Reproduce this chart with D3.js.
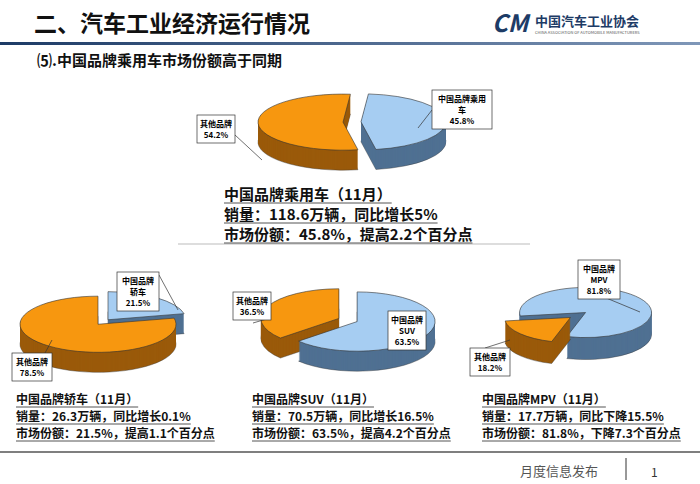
<!DOCTYPE html><html><head><meta charset="utf-8"><script src="https://cdn.jsdelivr.net/npm/d3@7"></script>
<style>body{margin:0;background:#fff}text{font-family:"Noto Sans CJK SC",sans-serif}</style></head><body>
<svg id="c" width="700" height="484"></svg>
<script>
const categories=["中国品牌","其他品牌"];
const pieNames=["乘用车","轿车","SUV","MPV"];
const chinaShare=[45.8,21.5,63.5,81.8];
const otherShare=[54.2,78.5,36.5,18.2];
const startAngles=[5,0,0,262];
const infoLines=[
["中国品牌乘用车（11月）","销量：118.6万辆，同比增长5%","市场份额：45.8%，提高2.2个百分点"],
["中国品牌轿车（11月）","销量：26.3万辆，同比增长0.1%","市场份额：21.5%，提高1.1个百分点"],
["中国品牌SUV（11月）","销量：70.5万辆，同比增长16.5%","市场份额：63.5%，提高4.2个百分点"],
["中国品牌MPV（11月）","销量：17.7万辆，同比下降15.5%","市场份额：81.8%，下降7.3个百分点"]];
const labelChina=[["中国品牌乘用","车","45.8%"],["中国品牌","轿车","21.5%"],["中国品牌","SUV","63.5%"],["中国品牌","MPV","81.8%"]];
const labelOther=[["其他品牌","54.2%"],["其他品牌","78.5%"],["其他品牌","36.5%"],["其他品牌","18.2%"]];

const svg=d3.select("#c");
svg.append("text").attr("x",34).attr("y",32).attr("font-size",23).attr("font-weight","bold").attr("fill","#111").text("二、汽车工业经济运行情况");
const g0=svg.append("defs").append("linearGradient").attr("id","hl");
g0.append("stop").attr("offset","0").attr("stop-color","#1d3b66");g0.append("stop").attr("offset","1").attr("stop-color","#7f97b8");
svg.append("rect").attr("x",0).attr("y",42).attr("width",700).attr("height",3).attr("fill","url(#hl)");
svg.append("text").attr("x",492).attr("y",32).attr("font-size",24).attr("font-weight","bold").attr("font-style","italic").attr("fill","#1d3b66").text("CM");
svg.append("text").attr("x",535).attr("y",26).attr("font-size",13).attr("font-weight","bold").attr("fill","#1d3b66").text("中国汽车工业协会");
svg.append("text").attr("x",535).attr("y",34).attr("font-size",4).attr("fill","#555").text("CHINA ASSOCIATION OF AUTOMOBILE MANUFACTURERS");
svg.append("text").attr("x",37).attr("y",66).attr("font-size",15).attr("font-weight","bold").attr("fill","#111").text("⑸.中国品牌乘用车市场份额高于同期");
svg.append("line").attr("x1",178).attr("x2",530).attr("y1",244).attr("y2",244).attr("stroke","#bbb");
svg.append("line").attr("x1",0).attr("x2",700).attr("y1",452).attr("y2",452).attr("stroke","#555").attr("stroke-width",1.5);
svg.append("text").attr("x",520).attr("y",476).attr("font-size",13).attr("fill","#555").attr("font-family","Noto Serif CJK SC,serif").text("月度信息发布");
svg.append("line").attr("x1",626).attr("x2",626).attr("y1",458).attr("y2",480).attr("stroke","#333");
svg.append("text").attr("x",651).attr("y",477).attr("font-size",12).attr("fill","#333").text("1");

const cfg=[{cx:352,cy:122,r:85,k:0.33,d:20,ex:9},{cx:103,cy:322,r:78,k:0.36,d:20,ex:8},{cx:348,cy:320,r:78,k:0.38,d:20,ex:10},{cx:578,cy:315,r:66,k:0.38,d:22,ex:10}];
const topC=["#A6CDF2","#F7970F"],sideC=["#4F7092","#9A5A0A"];
cfg.forEach((c,i)=>{
  const vals=[chinaShare[i],otherShare[i]];
  const a0=startAngles[i]*Math.PI/180;
  const pie=d3.pie().sort(null).value(d=>d).startAngle(a0).endAngle(a0+2*Math.PI)(vals);
  const arc=d3.arc().innerRadius(0).outerRadius(c.r);
  const g=svg.append("g");
  const items=pie.map((p,j)=>{const m=(p.startAngle+p.endAngle)/2;return {p,j,dx:Math.sin(m)*c.ex,dy:-Math.cos(m)*c.ex*c.k,m};});
  items.sort((a,b)=>a.dy-b.dy);
  items.forEach(it=>{
    for(let t=c.d;t>=1;t--){
      g.append("path").attr("d",arc(it.p)).attr("fill",sideC[it.j]).attr("stroke",t==c.d?"#333":"none").attr("stroke-width",0.6)
       .attr("transform",`translate(${c.cx+it.dx},${c.cy+it.dy+t}) scale(1,${c.k})`);
    }
    g.append("path").attr("d",arc(it.p)).attr("fill",topC[it.j]).attr("stroke","#333").attr("stroke-width",0.6)
     .attr("transform",`translate(${c.cx+it.dx},${c.cy+it.dy}) scale(1,${c.k})`).attr("vector-effect","non-scaling-stroke");
  });
});
function box(x,y,lines,w,lx,ly,ax,ay){
  const h=lines.length*11+6;
  svg.append("line").attr("x1",lx).attr("y1",ly).attr("x2",ax).attr("y2",ay).attr("stroke","#333").attr("stroke-width",0.7);
  svg.append("rect").attr("x",x).attr("y",y).attr("width",w).attr("height",h).attr("fill","#fff").attr("stroke","#333").attr("stroke-width",0.7);
  lines.forEach((l,k)=>svg.append("text").attr("x",x+w/2).attr("y",y+12+k*11).attr("text-anchor","middle").attr("font-size",8).attr("font-weight","bold").text(l));
}
box(432,90,labelChina[0],60,432,110,418,128);
box(197,115,labelOther[0],38,235,135,262,160);
box(117,272,labelChina[1],42,159,275,178,310);
box(12,353,labelOther[1],40,45,353,52,340);
box(233,292,labelOther[2],38,253,323,270,318);
box(388,311,labelChina[2],38,396,316,400,324);
box(578,260,labelChina[3],42,599,295,640,312);
box(470,348,labelOther[3],40,485,348,510,340);
const ip=[[224,200],[16,404],[252,404],[482,404]];
infoLines.forEach((ls,i)=>ls.forEach((l,k)=>{
  const sp=i==0?20:17, y=ip[i][1]+k*sp;
  const t=svg.append("text").attr("x",ip[i][0]).attr("y",y).attr("font-size",i==0?15:12).attr("font-weight","bold").attr("fill","#111").text(l);
  const w=t.node().getComputedTextLength();
  svg.append("line").attr("x1",ip[i][0]).attr("x2",ip[i][0]+w).attr("y1",y+3).attr("y2",y+3).attr("stroke","#555");
}));
</script></body></html>
